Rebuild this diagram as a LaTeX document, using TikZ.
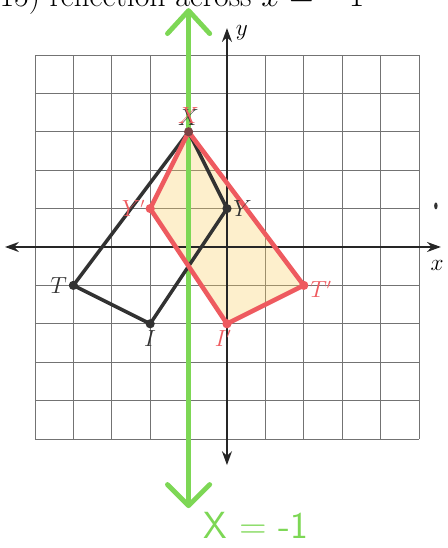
\documentclass[tikz,border=0pt]{standalone}
\usetikzlibrary{arrows.meta,positioning}
\definecolor{gridCol}{RGB}{115,115,115}
\definecolor{preCol}{RGB}{50,50,50}
\definecolor{imgCol}{RGB}{238,90,95}
\definecolor{lineCol}{RGB}{125,215,85}
\definecolor{shadeCol}{RGB}{248,205,95}
\tikzset{
  gridline/.style={draw=gridCol,line width=0.6pt},
  axis/.style={{Stealth[length=3.6mm,width=2.6mm]}-{Stealth[length=3.6mm,width=2.6mm]},
               line width=1.3pt,black!85},
  pre/.style={draw=preCol,line width=2.6pt,line join=round},
  img/.style={draw=imgCol,line width=3.4pt,line join=round},
  hatch/.style={fill=shadeCol,fill opacity=0.32},
  pt/.style={circle,inner sep=0pt,minimum size=2.4mm,fill=preCol},
  ptimg/.style={pt,fill=imgCol},
  lab/.style={font=\fontsize{16}{18}\selectfont,text=preCol,inner sep=1pt},
  labimg/.style={lab,text=imgCol},
  mirror/.style={draw=lineCol,line width=3.6pt,line cap=round,
    {Straight Barb[length=5.5mm,width=11mm,round]}-{Straight Barb[length=6mm,width=11mm,round]}},
  handlab/.style={font=\sffamily\fontsize{28}{30}\selectfont,text=lineCol},
}

\begin{document}
\begin{tikzpicture}[x=1cm,y=1cm]
    \useasboundingbox (-5.911,-7.839) rectangle (5.755,6.432);
    \clip (-5.911,-7.839) rectangle (5.755,6.432);
    % heading, cut off at the top of the page
    \node[anchor=base west,font=\fontsize{23.6}{28}\selectfont,inner sep=0pt] (head)
      at (-5.93,6.27) {15) reflection across $x = -1$};
    % vertices
    \coordinate (X) at (-1,3);  \coordinate (Y) at (0,1);
    \coordinate (T) at (-4,-1); \coordinate (I) at (-2,-2);
    \coordinate (Xp) at (-1,3); \coordinate (Yp) at (-2,1);
    \coordinate (Tp) at (2,-1); \coordinate (Ip) at (0,-2);
    % axis ends and mirror line ends
    \coordinate (xl) at (-5.78,0); \coordinate (xr) at (5.57,0);
    \coordinate (yb) at (0,-5.68); \coordinate (yt) at (0,5.70);
    \coordinate (mt) at (-1,6.22); \coordinate (mb) at (-1,-6.80);

    \draw[gridline] (-5,-5) grid (5,5);
    \fill[hatch] (Xp) -- (Yp) -- (Ip) -- (Tp) -- cycle;
    \draw[axis] (xl) -- (xr);
    \draw[axis] (yb) -- (yt);
    \node[font=\fontsize{16}{18}\selectfont] (ylab) at (0.39,5.57) {$y$};
    \node[font=\fontsize{16}{18}\selectfont] (xlab) at (5.47,-0.47) {$x$};
    \fill[preCol] (5.44,1.07) ellipse (0.045 and 0.09);

    \draw[mirror] (mb) -- (mt);
    \node[handlab] (eq) at (0.76,-7.25) {X = -1};

    \draw[pre] (T) -- (X) -- (Y) -- (I) -- cycle;
    \draw[img] (Xp) -- (Yp) -- (Ip) -- (Tp) -- cycle;

    \node[pt,label={[lab]left:$T$}] (Tdot) at (T) {};
    \node[pt,label={[lab]below:$I$}] (Idot) at (I) {};
    \node[pt,label={[lab]right:$Y$}] (Ydot) at (Y) {};
    \node[ptimg,label={[labimg,xshift=1pt]left:$Y'$}] (Ypdot) at (Yp) {};
    \node[ptimg,label={[labimg,xshift=-1mm]below:$I'$}] (Ipdot) at (Ip) {};
    \node[ptimg,label={[labimg,yshift=-1mm]right:$T'$}] (Tpdot) at (Tp) {};
    \node[pt,fill=preCol!60!imgCol,label={[lab]above:$X$}] (Xdot) at (X) {};
    \node[labimg,above=1pt of Xdot] (Xplab) {$X$};
\end{tikzpicture}
\end{document}
